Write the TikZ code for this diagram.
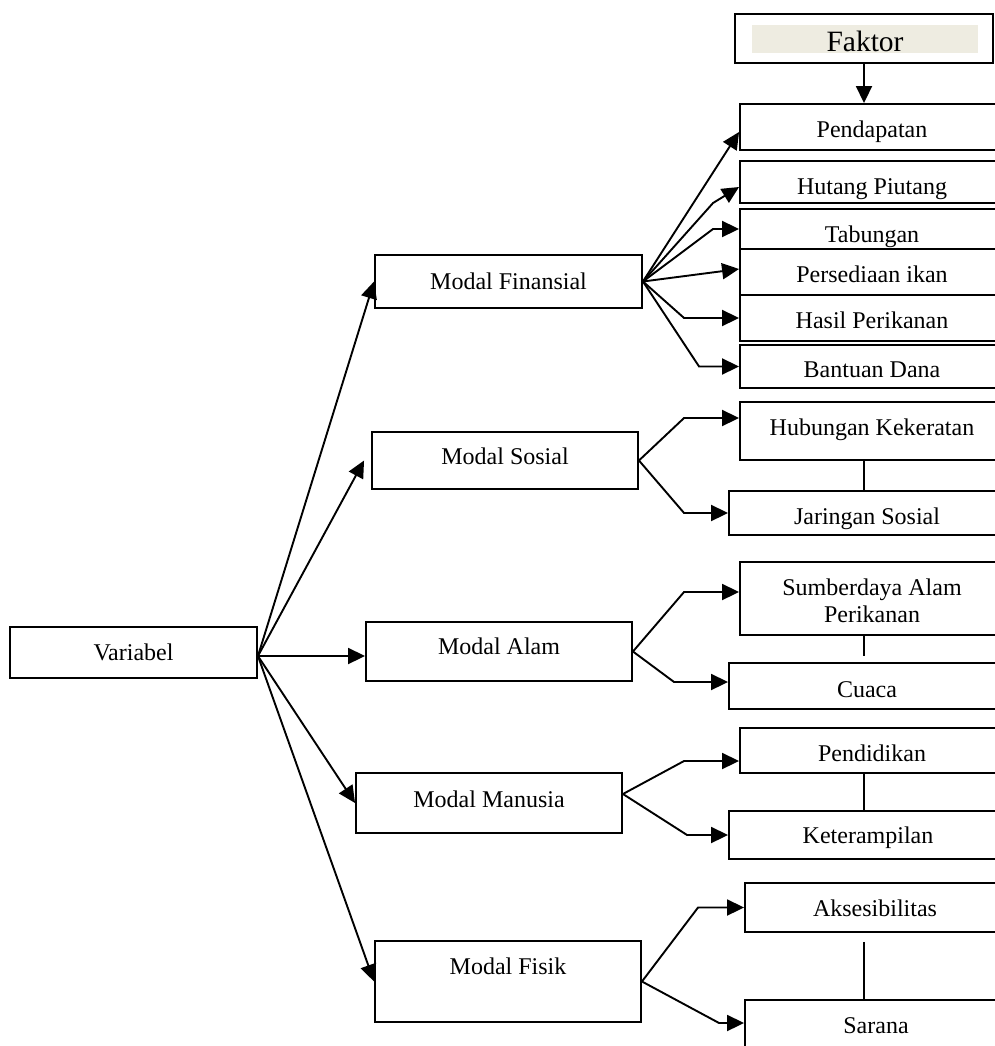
\documentclass[tikz,border=0pt]{standalone}
\usepackage{fontspec}
\setmainfont{Liberation Serif}
\usepackage{tikz}
\usetikzlibrary{calc,positioning,arrows.meta}
\definecolor{faktorbg}{RGB}{238,236,225}

\begin{document}
\begin{tikzpicture}[x=1pt, y=-1pt, line width=1.9pt,
		>={Triangle[length=17pt,width=16pt]},
		box/.style 2 args={draw, fill=white, inner sep=1pt, minimum width=#1pt, minimum height=#2pt,
			font=\fontsize{24}{27}\selectfont, text height=28pt, text depth=6pt}]
	\useasboundingbox (0,0) rectangle (995,1046);
	\clip (0,0) rectangle (995,1046);
	\fill[white] (0,0) rectangle (995,1046);

	% header
	\node[draw, minimum width=258pt, minimum height=49pt, inner sep=0pt] (fak) at (864,38.5) {};
	\node[fill=faktorbg, minimum width=226pt, minimum height=28pt, inner sep=1pt, text height=26pt, text depth=0pt,
		font=\fontsize{29.5}{32}\selectfont] (faklbl) at (865,39) {Faktor};

	% left and middle column
	\node[box={247}{51}, text depth=13pt] (var) at (133.5,652.5) {Variabel};
	\node[box={267}{53}, text depth=13pt] (mf) at (508.5,281.5) {Modal Finansial};
	\node[box={266}{57}, text depth=21pt] (ms) at (505,460.5) {Modal Sosial};
	\node[box={266}{59}, text depth=23pt] (ma) at (499,651.5) {Modal Alam};
	\node[box={266}{60}, text depth=20pt] (mm) at (489,803) {Modal Manusia};
	\node[box={266}{81}, text depth=43pt] (mfis) at (508,981.5) {Modal Fisik};

	% right column, cut at the page edge
	\node[box={264}{46}] (pend) at (872,127) {Pendapatan};
	\node[box={264}{42}, text depth=4pt] (hut) at (872,182) {Hutang Piutang};
	\node[box={264}{40}, text depth=2pt] (tab) at (872,229) {Tabungan};
	\node[box={264}{46}, text depth=8pt] (pers) at (872,272) {Persediaan ikan};
	\node[box={264}{46}, text depth=8pt] (has) at (872,318) {Hasil Perikanan};
	\node[box={264}{43}, text depth=7pt] (ban) at (872,366.5) {Bantuan Dana};
	\node[box={264}{58}, text depth=20pt] (hub) at (872,431) {Hubungan Kekeratan};
	\node[box={276}{44}] (jar) at (867,513) {Jaringan Sosial};
	\node[box={264}{73}, text height=50pt, text depth=3pt, align=center] (sda) at (872,598.5) {Sumberdaya Alam\\Perikanan};
	\node[box={276}{46}] (cua) at (867,686) {Cuaca};
	\node[box={264}{45}, text depth=7pt] (pen) at (872,750.5) {Pendidikan};
	\node[box={278}{48}, text depth=12pt] (ket) at (868,835) {Keterampilan};
	\node[box={260}{49}, text depth=11pt] (aks) at (875,907.5) {Aksesibilitas};
	\node[box={262}{60}, text depth=22pt] (sar) at (876,1030) {Sarana};

	\coordinate (v0) at ([yshift=-3.5pt]var.east);
	\coordinate (m0) at ([yshift=9pt]mm.east);

	\draw[->] (fak.south) -- (fak.south |- pend.north);

	% Variabel to the five capitals
	\draw[->] (v0) -- (mf.west);
	\draw[->] (v0) -- ([xshift=-7pt]ms.west);
	\draw[->] (v0) -- (v0 -| ma.west);
	\draw[->] (v0) -- (mm.west);
	\draw[->] (v0) -- (mfis.west);

	% Modal Finansial
	\draw[->] (mf.east) -- ([yshift=-5pt]pend.west);
	\draw[->] (mf.east) -- ([xshift=-26pt,yshift=-21pt]hut.west) -- ([yshift=-5pt]hut.west);
	\draw[->] (mf.east) -- ([xshift=-26pt]tab.west) -- (tab.west);
	\draw[->] (mf.east) -- ([yshift=3pt]pers.west);
	\draw[->] (mf.east) -- ([xshift=-55pt]has.west) -- (has.west);
	\draw[->] (mf.east) -- ([xshift=-40pt]ban.west) -- (ban.west);

	% Modal Sosial
	\draw[->] (ms.east) -- ([xshift=-55pt,yshift=13pt]hub.west) -- ([yshift=13pt]hub.west);
	\draw[->] (ms.east) -- ([xshift=-44pt]jar.west) -- (jar.west);
	\draw (hub.south -| fak.south) -- (jar.north -| fak.south);

	% Modal Alam
	\draw[->] (ma.east) -- ([xshift=-55pt,yshift=6.5pt]sda.west) -- ([yshift=6.5pt]sda.west);
	\draw[->] (ma.east) -- ([xshift=-54pt,yshift=4pt]cua.west) -- ([yshift=4pt]cua.west);
	\draw[shorten >=6pt] (sda.south -| fak.south) -- (cua.north -| fak.south);

	% Modal Manusia
	\draw[->] (m0) -- ([xshift=-55pt,yshift=-10.5pt]pen.west) -- ([yshift=-10.5pt]pen.west);
	\draw[->] (m0) -- ([xshift=-41pt]ket.west) -- (ket.west);
	\draw (pen.south -| fak.south) -- (ket.north -| fak.south);

	% Modal Fisik
	\draw[->] (mfis.east) -- ([xshift=-46pt]aks.west) -- (aks.west);
	\draw[->] (mfis.east) -- ([xshift=-25pt,yshift=7pt]sar.west) -- ([yshift=7pt]sar.west);
	\draw[shorten <=9pt] (aks.south -| fak.south) -- (sar.north -| fak.south);
\end{tikzpicture}
\end{document}
